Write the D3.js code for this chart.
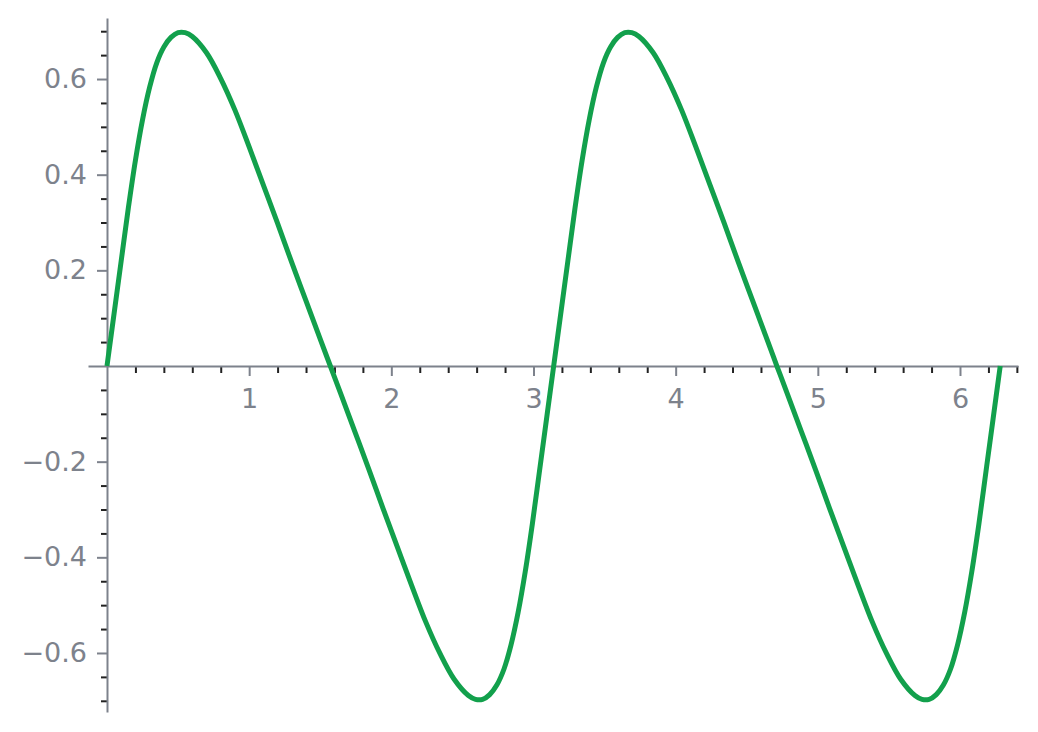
<!DOCTYPE html>
<html>
<head>
<meta charset="utf-8" />
<title></title>
<style>
html, body {
    padding: 0px;
    margin: 0px;
    width: 100%;
    height: 100%;
    background: #fff;
}
.axis path.domain {
    stroke: #7d828c;
    stroke-width: 2;
}
.major line {
    stroke: #7d828c;
    stroke-width: 2;
}
.minor line {
    stroke: #222;
    stroke-width: 2;
}
.axis text {
    fill: #7d828c;
    font-family: "DejaVu Sans", sans-serif;
    font-size: 27px;
}
</style>
</head>
<body>
<svg id="chart" width="1038" height="732"></svg>
<script src="https://cdnjs.cloudflare.com/ajax/libs/d3/7.8.5/d3.min.js"></script>
<script>
// curve, first period (0 .. pi)
var xs1 = [0, 0.05, 0.1, 0.15, 0.2, 0.25, 0.3, 0.35, 0.4, 0.45, 0.5, 0.55, 0.6, 0.7, 0.8, 0.9, 1.0, 1.1, 1.2, 1.3, 1.4, 1.5, 1.571,
           1.642, 1.742, 1.842, 1.942, 2.042, 2.142, 2.242, 2.342, 2.442, 2.542, 2.592, 2.642, 2.692, 2.742, 2.792, 2.842,
           2.892, 2.942, 2.992, 3.042, 3.092, 3.142]
var ys1 = [0, 0.11, 0.22, 0.33, 0.43, 0.515, 0.583, 0.634, 0.667, 0.687, 0.697, 0.697, 0.689, 0.655, 0.601, 0.535, 0.458, 0.378,
           0.298, 0.216, 0.136, 0.056, 0,
           -0.056, -0.136, -0.216, -0.298, -0.378, -0.458, -0.535, -0.601, -0.655, -0.689, -0.697, -0.697, -0.687, -0.667, -0.634,
           -0.583, -0.515, -0.43, -0.33, -0.22, -0.11, 0]
// second period (pi .. 2pi)
var xs2 = [3.142, 3.192, 3.242, 3.292, 3.342, 3.392, 3.442, 3.492, 3.542, 3.592, 3.642, 3.692, 3.742, 3.842, 3.942, 4.042, 4.142,
           4.242, 4.342, 4.442, 4.542, 4.642, 4.712,
           4.783, 4.883, 4.983, 5.083, 5.183, 5.283, 5.383, 5.483, 5.583, 5.683, 5.733, 5.783, 5.833, 5.883, 5.933, 5.983,
           6.033, 6.083, 6.133, 6.183, 6.233, 6.283]
var ys2 = [0, 0.11, 0.22, 0.33, 0.43, 0.515, 0.583, 0.634, 0.667, 0.687, 0.697, 0.697, 0.689, 0.655, 0.601, 0.535, 0.458, 0.378,
           0.298, 0.216, 0.136, 0.056, 0,
           -0.056, -0.136, -0.216, -0.298, -0.378, -0.458, -0.535, -0.601, -0.655, -0.689, -0.697, -0.697, -0.687, -0.667, -0.634,
           -0.583, -0.515, -0.43, -0.33, -0.22, -0.11, 0]

var xMajor = [1, 2, 3, 4, 5, 6]
var xMinor = [0.2, 0.4, 0.6, 0.8, 1.2, 1.4, 1.6, 1.8, 2.2, 2.4, 2.6, 2.8, 3.2, 3.4, 3.6, 3.8,
              4.2, 4.4, 4.6, 4.8, 5.2, 5.4, 5.6, 5.8, 6.2, 6.4]
var yMajor = [-0.6, -0.4, -0.2, 0.2, 0.4, 0.6]
var yMinor = [-0.7, -0.65, -0.55, -0.5, -0.45, -0.35, -0.3, -0.25, -0.15, -0.1, -0.05,
              0.05, 0.1, 0.15, 0.25, 0.3, 0.35, 0.45, 0.5, 0.55, 0.65, 0.7]

!(function(){
    "use strict"

    var svg = d3.select("#chart")

    var x = d3.scaleLinear().domain([-0.1336, 6.408]).range([88, 1018])
    var y = d3.scaleLinear().domain([-0.7234, 0.7276]).range([712, 18])

    var fmt = function(d) { return d3.format(".1f")(d).replace("-", "\u2212") }

    // minor ticks first, majors on top
    svg.append("g").attr("class", "axis minor")
        .attr("transform", "translate(0," + y(0) + ")")
        .call(d3.axisBottom(x).tickValues(xMinor).tickSize(7).tickSizeOuter(0).tickFormat(""))
        .select(".domain").remove()
    svg.append("g").attr("class", "axis minor")
        .attr("transform", "translate(" + x(0) + ",0)")
        .call(d3.axisLeft(y).tickValues(yMinor).tickSize(6).tickSizeOuter(0).tickFormat(""))
        .select(".domain").remove()

    svg.append("g").attr("class", "axis major")
        .attr("transform", "translate(0," + y(0) + ")")
        .call(d3.axisBottom(x).tickValues(xMajor).tickSize(10).tickSizeOuter(0).tickPadding(13).tickFormat(d3.format("d")))
    svg.append("g").attr("class", "axis major")
        .attr("transform", "translate(" + x(0) + ",0)")
        .call(d3.axisLeft(y).tickValues(yMajor).tickSize(10).tickSizeOuter(0).tickPadding(10).tickFormat(fmt))

    var pts = d3.zip(xs1, ys1).concat(d3.zip(xs2, ys2).slice(1))

    var line = d3.line()
        .x(function(d) { return x(d[0]) })
        .y(function(d) { return y(d[1]) })
        .curve(d3.curveCatmullRom.alpha(0.5))

    svg.append("path")
        .datum(pts)
        .attr("d", line)
        .attr("fill", "none")
        .attr("stroke", "#12a04c")
        .attr("stroke-width", 5)

}());
</script>
</body>
</html>
